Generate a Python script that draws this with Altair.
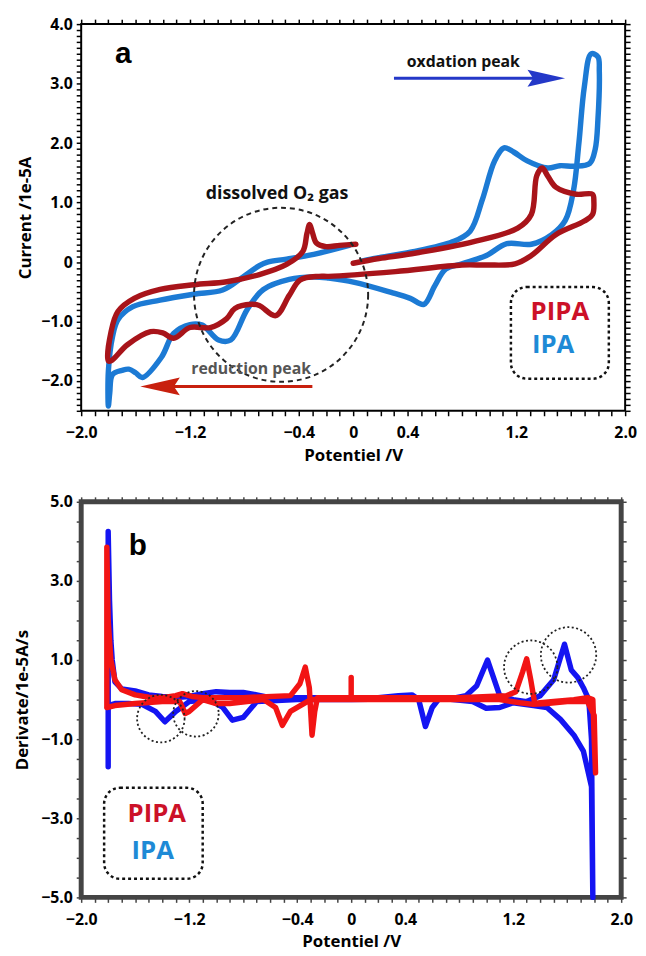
import altair as alt
import pandas as pd

# ---------------- Panel a : cyclic voltammograms ----------------
ipa_x = [-0.03, -0.29, -0.49, -0.63, -0.69, -0.81, -0.96, -1.17, -1.42, -1.62, -1.73, -1.77, -1.80, -1.80,
         -1.79, -1.77, -1.70, -1.65, -1.60, -1.55, -1.41, -1.32, -1.20, -1.11, -0.99, -0.90, -0.78, -0.66,
         -0.47, -0.29, -0.18, 0.01, 0.28, 0.42, 0.52, 0.60, 0.68, 0.80, 0.98, 1.13, 1.31, 1.46, 1.56, 1.62,
         1.66, 1.70, 1.75, 1.80, 1.81, 1.80, 1.78, 1.74, 1.63, 1.52, 1.43, 1.28, 1.18, 1.11, 1.04, 0.95,
         0.86, 0.73, 0.43, 0.13, 0.07]
ipa_y = [0.28, 0.13, 0.05, 0.0, -0.06, -0.25, -0.47, -0.54, -0.64, -0.75, -0.97, -1.26, -1.83, -2.42,
         -2.20, -1.89, -1.82, -1.80, -1.86, -1.94, -1.60, -1.20, -1.05, -1.06, -1.31, -1.31, -0.80, -0.46,
         -0.29, -0.25, -0.27, -0.34, -0.51, -0.61, -0.71, -0.40, -0.12, -0.03, 0.11, 0.31, 0.30, 0.46, 0.70, 1.20,
         2.00, 2.95, 3.50, 3.45, 3.20, 2.40, 1.90, 1.66, 1.61, 1.62, 1.58, 1.70, 1.85, 1.92, 1.70, 1.05,
         0.52, 0.34, 0.17, 0.05, 0.02]

pipa_x = [0.02, -0.10, -0.20, -0.27, -0.30, -0.32, -0.34, -0.37, -0.49, -0.69, -0.93, -1.17, -1.42, -1.61,
          -1.73, -1.78, -1.80, -1.78, -1.66, -1.49, -1.40, -1.32, -1.20, -1.05, -0.93, -0.87, -0.75, -0.69,
          -0.57, -0.47, -0.39, -0.25, -0.18, 0.31, 0.80, 0.98, 1.19, 1.31, 1.49, 1.70, 1.76, 1.77, 1.76,
          1.64, 1.49, 1.43, 1.39, 1.35, 1.31, 1.21, 0.88, 0.43, 0.19, 0.0]
pipa_y = [0.30, 0.28, 0.26, 0.32, 0.50, 0.63, 0.48, 0.18, -0.04, -0.21, -0.33, -0.38, -0.46, -0.61,
          -0.83, -1.17, -1.66, -1.66, -1.39, -1.17, -1.19, -1.28, -1.10, -1.10, -0.95, -0.78, -0.71, -0.73,
          -0.90, -0.56, -0.30, -0.24, -0.24, -0.16, -0.05, -0.05, -0.03, 0.11, 0.46, 0.69, 0.80, 1.02, 1.14,
          1.14, 1.26, 1.45, 1.58, 1.45, 0.80, 0.57, 0.34, 0.14, 0.06, -0.02]

# ---------------- Panel b : derivatives ----------------
dipa_x = [-1.80, -1.80, -1.79, -1.78, -1.77, -1.75, -1.70, -1.60, -1.50, -1.40, -1.30, -1.20, -1.10, -1.00,
          -0.90, -0.80, -0.70, -0.60, -0.40, -0.20, 0.00, 0.20, 0.35, 0.45, 0.50, 0.55, 0.60, 0.65, 0.75,
          0.85, 0.93, 1.01, 1.05, 1.10, 1.20, 1.30, 1.40, 1.50, 1.58, 1.63, 1.68, 1.72, 1.76, 1.78, 1.79,
          1.78, 1.72, 1.65, 1.55, 1.45, 1.35, 1.20, 1.10, 1.00, 0.90, 0.70, 0.40, 0.00, -0.40, -0.70, -0.80,
          -0.88, -0.95, -1.05, -1.20, -1.30, -1.38, -1.45, -1.55, -1.65, -1.75, -1.80]
dipa_y = [-1.70, 4.25, 2.50, 1.50, 1.00, 0.45, 0.27, 0.22, 0.12, 0.08, 0.05, 0.08, 0.15, 0.20,
          0.18, 0.18, 0.12, 0.05, 0.05, 0.05, 0.05, 0.05, 0.10, 0.12, 0.00, -0.68, -0.20, 0.02, 0.03,
          0.10, 0.35, 1.00, 0.60, 0.10, 0.00, -0.05, 0.10, 0.50, 1.40, 0.75, 0.55, 0.30, 0.00, -1.00, -5.00,
          -2.20, -1.30, -0.90, -0.50, -0.20, -0.15, -0.08, -0.20, -0.22, -0.05, 0.02, 0.02, 0.00, 0.00, -0.05, -0.45,
          -0.52, -0.20, 0.00, -0.05, -0.30, -0.56, -0.30, -0.12, -0.10, -0.10, -0.15]

dpipa_x = [-1.81, -1.81, -1.80, -1.78, -1.75, -1.70, -1.60, -1.50, -1.40, -1.30, -1.25, -1.18, -1.10, -0.80,
           -0.45, -0.38, -0.34, -0.31, -0.29, -0.27, -0.25, -0.10, 0.00, 0.00, 0.00, 0.30, 0.80, 1.15, 1.22,
           1.27, 1.30, 1.33, 1.36, 1.40, 1.50, 1.65, 1.75, 1.79, 1.80, 1.81, 1.80, 1.75, 1.60, 1.45, 1.35,
           1.25, 1.10, 0.50, 0.00, -0.30, -0.45, -0.51, -0.56, -0.65, -0.90, -1.00, -1.10, -1.20, -1.23, -1.27,
           -1.40, -1.60, -1.75, -1.81]
dpipa_y = [-0.20, 3.85, 2.00, 1.00, 0.50, 0.25, 0.12, 0.06, 0.05, 0.10, 0.15, 0.08, 0.05, 0.05,
           0.10, 0.40, 0.82, 0.30, -0.90, -0.30, 0.05, 0.05, 0.05, 0.56, 0.05, 0.05, 0.05, 0.10, 0.20,
           0.70, 1.03, 0.50, -0.10, -0.08, -0.05, 0.00, 0.05, 0.00, -1.00, -1.85, -0.40, -0.05, -0.05, -0.10, -0.12,
           -0.08, 0.00, 0.00, 0.00, 0.00, -0.30, -0.65, -0.20, 0.00, -0.10, -0.10, 0.00, -0.30, -0.35, -0.05,
           -0.05, -0.10, -0.15, -0.20]

# ---------------- annotation positions (data units) ----------------
ellipse_a = {"x": -0.53, "y": -0.55}
circles_b_x = [-1.41, -1.15, 1.33, 1.61]
circles_b_y = [-0.48, -0.36, 0.82, 1.13]
circles_b_size = [2304, 2116, 2916, 3136]

FONT = "Open Sans"
BLUE_A, RED_A = "#1C7AD4", "#A8141A"
BLUE_B, RED_B = "#1414F2", "#F21414"


def series_df(xs, ys, name):
    return pd.DataFrame({"x": xs, "y": ys, "series": name, "i": range(len(xs))})


xt = [round(-2 + 0.1 * k, 1) for k in range(41)]
x_label_expr = ("(abs(abs(datum.value) - 2) < 0.001 || abs(abs(datum.value) - 1.2) < 0.001 || "
                "abs(abs(datum.value) - 0.4) < 0.001 || abs(datum.value) < 0.001) ? "
                "(abs(datum.value) < 0.001 ? '0' : format(datum.value, '.1f')) : ''")


def x_axis(color, orient="bottom", labels=True):
    kw = dict(values=xt, ticks=True, tickSize=5, tickColor=color, tickWidth=1.5, tickOpacity=1,
              domain=False, grid=False, orient=orient)
    if labels:
        kw.update(labelExpr=x_label_expr, labelFont=FONT, labelFontSize=16, labelFontWeight="bold",
                  labelColor="black", labelPadding=9, title="Potentiel /V", titleFont=FONT,
                  titleFontSize=17, titleFontWeight="bold", titleColor="black", titlePadding=7,
                  labelOverlap=False, labelFlush=False)
    else:
        kw.update(labels=False, title=None)
    return alt.Axis(**kw)


def y_axis(values, label_expr, title, color, orient="left", labels=True, title_pad=6):
    kw = dict(values=values, ticks=True, tickSize=5, tickColor=color, tickWidth=1.5, tickOpacity=1,
              domain=False, grid=False, orient=orient)
    if labels:
        kw.update(labelExpr=label_expr, labelFont=FONT, labelFontSize=16, labelFontWeight="bold",
                  labelColor="black", labelPadding=4, title=title, titleFont=FONT, titleFontSize=17,
                  titleFontWeight="bold", titleColor="black", titlePadding=title_pad, labelOverlap=False,
                  labelFlush=False)
    else:
        kw.update(labels=False, title=None)
    return alt.Axis(**kw)


def pos(xs, ys):
    return dict(x=alt.X("x:Q", scale=xs, axis=None), y=alt.Y("y:Q", scale=ys, axis=None))


# ================= Panel a =================
dfa = pd.concat([series_df(ipa_x, ipa_y, "IPA"), series_df(pipa_x, pipa_y, "PIPA")])
xs_a = alt.Scale(domain=[-2, 2], nice=False, zero=False)
ys_a = alt.Scale(domain=[-2.5, 4], nice=False, zero=False)
yt_a = [round(-2.5 + 0.1 * k, 1) for k in range(66)]
ya_label = ("abs(datum.value - round(datum.value)) < 0.001 ? "
            "(abs(datum.value) < 0.001 ? '0' : format(datum.value, '.1f')) : ''")

lines_a = alt.Chart(dfa).mark_line(strokeWidth=5.5, strokeCap="round", strokeJoin="round",
                                   interpolate="catmull-rom").encode(
    x=alt.X("x:Q", scale=xs_a, axis=x_axis("black")),
    y=alt.Y("y:Q", scale=ys_a, axis=y_axis(yt_a, ya_label, "Current /1e-5A", "black", title_pad=6)),
    color=alt.Color("series:N", scale=alt.Scale(domain=["IPA", "PIPA"], range=[BLUE_A, RED_A]), legend=None),
    order="i:Q",
)
ticks_a = alt.Chart(pd.DataFrame({"x": [0.0], "y": [0.0]})).mark_point(opacity=0).encode(
    x=alt.X("x:Q", scale=xs_a, axis=x_axis("black", orient="top", labels=False)),
    y=alt.Y("y:Q", scale=ys_a, axis=y_axis(yt_a, "", None, "black", orient="right", labels=False)),
)

ell = alt.Chart(pd.DataFrame([ellipse_a])).mark_point(
    shape="circle", size=176 ** 2, filled=False, stroke="#222", strokeWidth=2, strokeDash=[5, 4], opacity=1
).encode(**pos(xs_a, ys_a))

txt_a = pd.DataFrame({"x": [-1.69], "y": [3.50], "t": ["a"]})
lab_a = alt.Chart(txt_a).mark_text(font="Liberation Sans", fontSize=30, fontWeight="bold", color="black").encode(
    text="t:N", **pos(xs_a, ys_a))

ox_lbl = alt.Chart(pd.DataFrame({"x": [0.81], "y": [3.36], "t": ["oxdation peak"]})).mark_text(
    font=FONT, fontSize=16, fontWeight="bold", color="#111").encode(text="t:N", **pos(xs_a, ys_a))
o2_lbl = alt.Chart(pd.DataFrame({"x": [-0.56], "y": [1.14], "t": ["dissolved  O\u2082 gas"]})).mark_text(
    font=FONT, fontSize=18, fontWeight="bold", color="#111").encode(text="t:N", **pos(xs_a, ys_a))
red_lbl = alt.Chart(pd.DataFrame({"x": [-0.75], "y": [-1.79], "t": ["reduction peak"]})).mark_text(
    font=FONT, fontSize=16, fontWeight="bold", color="#555").encode(text="t:N", **pos(xs_a, ys_a))

arrow_blue = alt.Chart(pd.DataFrame({"x": [0.30], "x2": [1.45], "y": [3.09]})).mark_rule(
    color="#2438C8", strokeWidth=3).encode(
    x=alt.X("x:Q", scale=xs_a, axis=None), x2="x2:Q", y=alt.Y("y:Q", scale=ys_a, axis=None))
head_blue = alt.Chart(pd.DataFrame({"x": [1.42], "y": [3.09]})).mark_point(
    shape="M-1,-0.45L1,0L-1,0.45L-0.7,0Z", size=1444, filled=True, color="#2438C8", opacity=1).encode(
    **pos(xs_a, ys_a))
arrow_red = alt.Chart(pd.DataFrame({"x": [-0.30], "x2": [-1.40], "y": [-2.09]})).mark_rule(
    color="#C8200E", strokeWidth=3).encode(
    x=alt.X("x:Q", scale=xs_a, axis=None), x2="x2:Q", y=alt.Y("y:Q", scale=ys_a, axis=None))
head_red = alt.Chart(pd.DataFrame({"x": [-1.42], "y": [-2.09]})).mark_point(
    shape="M1,-0.45L-1,0L1,0.45L0.7,0Z", size=1600, filled=True, color="#C8200E", opacity=1).encode(
    **pos(xs_a, ys_a))

box_a = alt.Chart(pd.DataFrame({"x": [1.16], "x2": [1.88], "y": [-0.42], "y2": [-1.96]})).mark_rect(
    fillOpacity=0, stroke="#111", strokeWidth=2.5, strokeDash=[3, 3], cornerRadius=16).encode(
    x=alt.X("x:Q", scale=xs_a, axis=None), x2="x2:Q", y=alt.Y("y:Q", scale=ys_a, axis=None), y2="y2:Q")
leg_a = pd.DataFrame({"x": [1.52, 1.47], "y": [-0.84, -1.40], "t": ["PIPA", "IPA"]})
leg_a_ch = alt.Chart(leg_a).mark_text(font=FONT, fontSize=26, fontWeight="bold").encode(
    text="t:N", color=alt.Color("t:N", scale=alt.Scale(domain=["PIPA", "IPA"], range=["#CC1128", "#1E8AD6"]),
                                legend=None),
    **pos(xs_a, ys_a))

panel_a = alt.layer(ticks_a, lines_a, ell, lab_a, ox_lbl, o2_lbl, red_lbl, arrow_blue, head_blue, arrow_red,
                    head_red, box_a, leg_a_ch).resolve_axis(x="independent", y="independent").resolve_scale(
    color="independent").properties(width=550, height=391, view=alt.ViewConfig(stroke="black", strokeWidth=2))

# ================= Panel b =================
dfb = pd.concat([series_df(dipa_x, dipa_y, "IPA"), series_df(dpipa_x, dpipa_y, "PIPA")])
xs_b = alt.Scale(domain=[-2, 2], nice=False, zero=False)
ys_b = alt.Scale(domain=[-5, 5], nice=False, zero=False)
yt_b = [round(-5 + 0.5 * k, 1) for k in range(21)]
yb_label = "abs(abs(datum.value) % 2 - 1) < 0.001 ? format(datum.value, '.1f') : ''"

lines_b = alt.Chart(dfb).mark_line(strokeWidth=5.5, strokeCap="round", strokeJoin="round").encode(
    x=alt.X("x:Q", scale=xs_b, axis=x_axis("#444")),
    y=alt.Y("y:Q", scale=ys_b, axis=y_axis(yt_b, yb_label, "Derivate/1e-5A/s", "#444", title_pad=9)),
    color=alt.Color("series:N", scale=alt.Scale(domain=["IPA", "PIPA"], range=[BLUE_B, RED_B]), legend=None),
    order="i:Q",
)
ticks_b = alt.Chart(pd.DataFrame({"x": [0.0], "y": [0.0]})).mark_point(opacity=0).encode(
    x=alt.X("x:Q", scale=xs_b, axis=x_axis("#444", orient="top", labels=False)),
    y=alt.Y("y:Q", scale=ys_b, axis=y_axis(yt_b, "", None, "#444", orient="right", labels=False)),
)
circ_b = alt.Chart(pd.DataFrame({"x": circles_b_x, "y": circles_b_y, "s": circles_b_size})).mark_point(
    shape="circle", filled=False, stroke="#222", strokeWidth=1.8, strokeDash=[2, 2.5], opacity=1).encode(
    size=alt.Size("s:Q", scale=None), **pos(xs_b, ys_b))
lab_b = alt.Chart(pd.DataFrame({"x": [-1.58], "y": [3.88], "t": ["b"]})).mark_text(
    font="Liberation Sans", fontSize=30, fontWeight="bold", color="black").encode(text="t:N", **pos(xs_b, ys_b))
box_b = alt.Chart(pd.DataFrame({"x": [-1.83], "x2": [-1.10], "y": [-2.23], "y2": [-4.53]})).mark_rect(
    fillOpacity=0, stroke="#111", strokeWidth=2.5, strokeDash=[3, 3], cornerRadius=16).encode(
    x=alt.X("x:Q", scale=xs_b, axis=None), x2="x2:Q", y=alt.Y("y:Q", scale=ys_b, axis=None), y2="y2:Q")
leg_b = pd.DataFrame({"x": [-1.44, -1.47], "y": [-2.90, -3.83], "t": ["PIPA", "IPA"]})
leg_b_ch = alt.Chart(leg_b).mark_text(font=FONT, fontSize=26, fontWeight="bold").encode(
    text="t:N", color=alt.Color("t:N", scale=alt.Scale(domain=["PIPA", "IPA"], range=["#CC1128", "#1E8AD6"]),
                                legend=None),
    **pos(xs_b, ys_b))

panel_b = alt.layer(ticks_b, lines_b, circ_b, lab_b, box_b, leg_b_ch).resolve_axis(
    x="independent", y="independent").resolve_scale(color="independent").properties(
    width=546, height=400, view=alt.ViewConfig(stroke="#444", strokeWidth=5))

chart = alt.vconcat(panel_a, panel_b, spacing=27).properties(
    padding={"left": 3, "top": 2, "right": 0, "bottom": 0}, background="white")

chart.save("out.html", embed_options={"renderer": "svg", "actions": False})
